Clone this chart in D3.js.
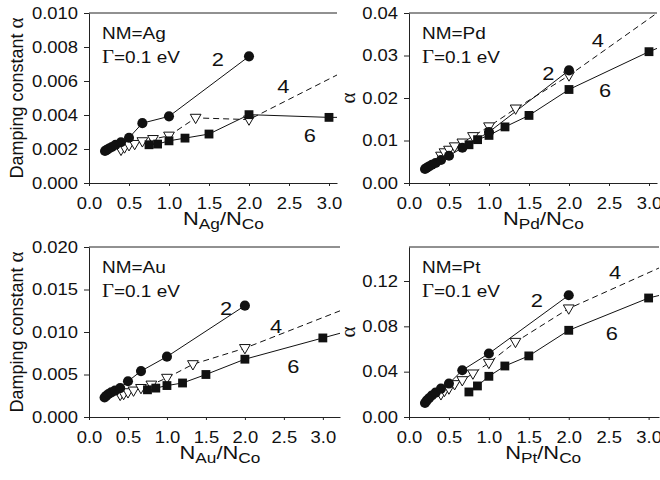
<!DOCTYPE html>
<html>
<head>
<meta charset="utf-8">
<script src="https://cdn.jsdelivr.net/npm/d3@7"></script>
<style>
  body { margin: 0; background: #fff; }
  text { font-family: "Liberation Sans", Arial, sans-serif; fill: #111; }
</style>
</head>
<body>
<div id="chart"></div>
<script>
// x positions of each series (N_NM / N_Co)
const xs2 = [0.2, 0.222, 0.25, 0.286, 0.333, 0.4, 0.5, 0.667, 1.0, 2.0]
const xs4 = [0.4, 0.444, 0.5, 0.571, 0.667, 0.8, 1.0, 1.333, 2.0, 4.0]
const xs6 = [0.75, 0.857, 1.0, 1.2, 1.5, 2.0, 3.0, 6.0]

// damping constant
const ag2 = [0.00188, 0.00195, 0.00203, 0.00212, 0.00225, 0.00240, 0.00266, 0.00352, 0.00392, 0.00745]
const ag4 = [0.00195, 0.00209, 0.00222, 0.00229, 0.00245, 0.00258, 0.00278, 0.00383, 0.00373, 0.0085]
const ag6 = [0.00225, 0.00229, 0.00248, 0.00264, 0.00288, 0.00402, 0.00386, 0.0039]

const pd2 = [0.0033, 0.0036, 0.0039, 0.0043, 0.0047, 0.0054, 0.0064, 0.0083, 0.0120, 0.0265]
const pd4 = [0.0064, 0.0072, 0.0078, 0.0086, 0.0095, 0.0110, 0.0133, 0.0175, 0.0253, 0.052]
const pd6 = [0.0090, 0.0102, 0.0112, 0.0132, 0.0159, 0.0220, 0.0309, 0.054]

const au2 = [0.0023, 0.0025, 0.0027, 0.0029, 0.0031, 0.0034, 0.0042, 0.0054, 0.0071, 0.0131]
const au4 = [0.0026, 0.0027, 0.0029, 0.0031, 0.0034, 0.0038, 0.0046, 0.0062, 0.0081, 0.0153]
const au6 = [0.0032, 0.0034, 0.0037, 0.0040, 0.0050, 0.0068, 0.0093, 0.0168]

const pt2 = [0.0124, 0.0145, 0.0165, 0.0190, 0.0215, 0.0250, 0.0295, 0.0412, 0.0560, 0.1074]
const pt4 = [0.0200, 0.0230, 0.0251, 0.0289, 0.0324, 0.0383, 0.0477, 0.0662, 0.0957, 0.159]
const pt6 = [0.0221, 0.0274, 0.0359, 0.0450, 0.0539, 0.0765, 0.1050, 0.156]

const xTicks = [0, 0.5, 1.0, 1.5, 2.0, 2.5, 3.0]
const agTicks = [0, 0.002, 0.004, 0.006, 0.008, 0.010]
const pdTicks = [0, 0.01, 0.02, 0.03, 0.04]
const auTicks = [0, 0.005, 0.010, 0.015, 0.020]
const ptTicks = [0, 0.04, 0.08, 0.12]

// curve labels "2", "4", "6" in data units
const agLabels = [[1.61, 0.00728], [2.43, 0.00568], [2.76, 0.00284]]
const pdLabels = [[1.74, 0.0258], [2.36, 0.0336], [2.45, 0.0218]]
const auLabels = [[1.76, 0.0128], [2.40, 0.0107], [2.62, 0.0060]]
const ptLabels = [[1.60, 0.103], [2.58, 0.1277], [2.54, 0.0739]]
const curveNames = ["2", "4", "6"]

const SX = 1.15  // the original art is a bit wider than tall

let svg = d3.select("#chart").append("svg")
    .attr("width", 660)
    .attr("height", 480)

let panels = [
    {nm: "Ag", s2: ag2, s4: ag4, s6: ag6, ticks: agTicks, fmt: ".3f", ymax: 0.010, xmax: 3.1,
     left: 89, right: 337, top: 13, bottom: 183, ytitle: "Damping constant \u03b1", labels: agLabels},
    {nm: "Pd", s2: pd2, s4: pd4, s6: pd6, ticks: pdTicks, fmt: ".2f", ymax: 0.04, xmax: 3.1,
     left: 409, right: 657, top: 13, bottom: 183, ytitle: "\u03b1", labels: pdLabels},
    {nm: "Au", s2: au2, s4: au4, s6: au6, ticks: auTicks, fmt: ".3f", ymax: 0.020, xmax: 3.22,
     left: 89, right: 340, top: 247, bottom: 417, ytitle: "Damping constant \u03b1", labels: auLabels},
    {nm: "Pt", s2: pt2, s4: pt4, s6: pt6, ticks: ptTicks, fmt: ".2f", ymax: 0.15, xmax: 3.13,
     left: 409, right: 659, top: 247, bottom: 417, ytitle: "\u03b1", labels: ptLabels}
]

panels.forEach((p, i) => drawPanel(p, i))

function drawPanel(p, idx) {
    let x = d3.scaleLinear().domain([0, p.xmax]).range([p.left, p.right])
    let y = d3.scaleLinear().domain([0, p.ymax]).range([p.bottom, p.top])

    let g = svg.append("g")

    g.append("clipPath").attr("id", "clip" + idx)
        .append("rect")
        .attr("x", p.left).attr("y", p.top - 6)
        .attr("width", p.right - p.left).attr("height", p.bottom - p.top + 6)

    // y axis
    let yAxis = g.append("g")
        .attr("transform", `translate(${p.left},0)`)
        .call(d3.axisLeft(y).tickValues(p.ticks).tickFormat(d3.format(p.fmt))
            .tickSize(5).tickSizeOuter(0).tickPadding(6))
    yAxis.select(".domain").attr("stroke", "#222")
    yAxis.selectAll(".tick line").attr("stroke", "#222")
    yAxis.selectAll(".tick text")
        .attr("x", -11 / SX)
        .attr("transform", `scale(${SX},1)`)
        .style("font-size", "16px")
        .style("font-family", "'Liberation Sans', Arial, sans-serif")
        .attr("fill", "#111")

    // x axis
    let xAxis = g.append("g")
        .attr("transform", `translate(0,${p.bottom})`)
        .call(d3.axisBottom(x).tickValues(xTicks).tickFormat(d3.format(".1f"))
            .tickSize(3).tickSizeOuter(0).tickPadding(12))
    xAxis.select(".domain").attr("stroke", "#222")
    xAxis.selectAll(".tick line").attr("stroke", "#222")
    xAxis.selectAll(".tick text")
        .attr("transform", `scale(${SX},1)`)
        .style("font-size", "16px")
        .style("font-family", "'Liberation Sans', Arial, sans-serif")
        .attr("fill", "#111")

    // top frame line
    g.append("line")
        .attr("x1", p.left).attr("x2", p.right)
        .attr("y1", p.top).attr("y2", p.top)
        .attr("stroke", "#222")

    // series
    let plot = g.append("g").attr("clip-path", `url(#clip${idx})`)
    let line = d3.line().x(d => x(d[0])).y(d => y(d[1]))

    let series = [
        {xs: xs4, ys: p.s4, dash: "6,4", sym: "tri"},
        {xs: xs6, ys: p.s6, dash: null, sym: "sq"},
        {xs: xs2, ys: p.s2, dash: null, sym: "circ"}
    ]

    series.forEach(s => {
        let pts = s.xs.map((v, k) => [v, s.ys[k]])
        plot.append("path")
            .datum(pts)
            .attr("d", line)
            .attr("fill", "none")
            .attr("stroke", "#111")
            .attr("stroke-width", 1)
            .attr("stroke-dasharray", s.dash)
    })

    series.forEach(s => {
        let pts = s.xs.map((v, k) => [v, s.ys[k]])
        let sel = plot.selectAll(null).data(pts).enter().append("path")
        if (s.sym === "tri") {
            sel.attr("d", d3.symbol(d3.symbolTriangle, 50))
                .attr("transform", d => `translate(${x(d[0])},${y(d[1]) - 0.5}) rotate(180)`)
                .attr("fill", "#fff").attr("stroke", "#111").attr("stroke-width", 1)
        } else if (s.sym === "sq") {
            sel.attr("d", d3.symbol(d3.symbolSquare, 78))
                .attr("transform", d => `translate(${x(d[0])},${y(d[1])})`)
                .attr("fill", "#111")
        } else {
            sel.attr("d", d3.symbol(d3.symbolCircle, 80))
                .attr("transform", d => `translate(${x(d[0])},${y(d[1])})`)
                .attr("fill", "#111")
        }
    })

    // curve labels
    p.labels.forEach((l, k) => {
        g.append("text")
            .attr("transform", `translate(${x(l[0])},${y(l[1])}) scale(${SX},1)`)
            .attr("text-anchor", "middle")
            .attr("dy", "0.36em")
            .style("font-size", "19px")
            .text(curveNames[k])
    })

    // annotations
    g.append("text")
        .attr("transform", `translate(${p.left + 13},${p.top + 26}) scale(${SX},1)`)
        .style("font-size", "16.5px")
        .text("NM=" + p.nm)
    let gam = g.append("text")
        .attr("transform", `translate(${p.left + 13},${p.top + 50}) scale(${SX},1)`)
        .style("font-size", "16.5px")
    gam.append("tspan").style("font-family", "'Liberation Serif', serif").style("font-size", "18px").text("\u0393")
    gam.append("tspan").text("=0.1 eV")

    // x title
    let xt = g.append("text")
        .attr("transform", `translate(${x(1.68)},${p.bottom + 42}) scale(${SX},1)`)
        .attr("text-anchor", "middle")
        .style("font-size", "19px")
    xt.append("tspan").text("N")
    xt.append("tspan").attr("dy", 4).style("font-size", "15px").text(p.nm)
    xt.append("tspan").attr("dy", -4).text("/N")
    xt.append("tspan").attr("dy", 4).style("font-size", "15px").text("Co")

    // y title
    let yt = g.append("text")
        .attr("transform", `translate(${idx % 2 === 0 ? p.left - 66 : p.left - 54},${(p.top + p.bottom) / 2}) rotate(-90)`)
        .attr("text-anchor", "middle")
        .style("font-size", "18px")
    if (p.ytitle.length > 1) {
        yt.append("tspan").text("Damping constant ")
    }
    yt.append("tspan").style("font-family", "'Liberation Serif', serif").style("font-size", "21px").text("\u03b1")
}
</script>
</body>
</html>
